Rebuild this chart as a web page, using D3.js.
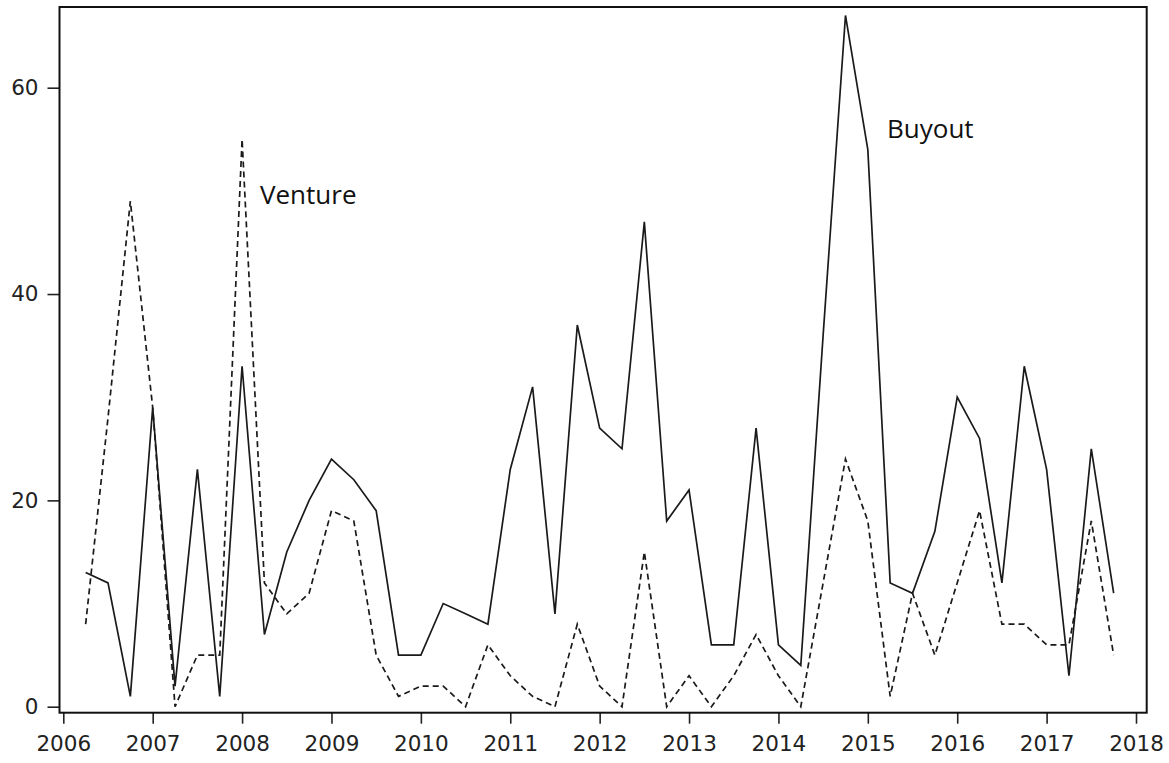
<!doctype html>
<html>
<head>
<meta charset="utf-8"/>
<title>Buyout and Venture</title>
<script src="https://cdn.jsdelivr.net/npm/d3@7"></script>
<style>
  body { margin: 0; background: #fff; }
  .tick text { font-family: "DejaVu Sans", Verdana, sans-serif; font-size: 21.5px; fill: #222; }
  .lbl { font-family: "Open Sans", "Segoe UI", sans-serif; font-size: 26px; fill: #111; }
</style>
</head>
<body>
<script>
// quarterly periods (decimal years)
var periods = [2006.25, 2006.5, 2006.75,
  2007, 2007.25, 2007.5, 2007.75,
  2008, 2008.25, 2008.5, 2008.75,
  2009, 2009.25, 2009.5, 2009.75,
  2010, 2010.25, 2010.5, 2010.75,
  2011, 2011.25, 2011.5, 2011.75,
  2012, 2012.25, 2012.5, 2012.75,
  2013, 2013.25, 2013.5, 2013.75,
  2014, 2014.25, 2014.5, 2014.75,
  2015, 2015.25, 2015.5, 2015.75,
  2016, 2016.25, 2016.5, 2016.75,
  2017, 2017.25, 2017.5, 2017.75];

var buyout = [13, 12, 1,
  29, 2, 23, 1,
  33, 7, 15, 20,
  24, 22, 19, 5,
  5, 10, 9, 8,
  23, 31, 9, 37,
  27, 25, 47, 18,
  21, 6, 6, 27,
  6, 4, 36, 67,
  54, 12, 11, 17,
  30, 26, 12, 33,
  23, 3, 25, 11];

var venture = [8, 28, 49,
  29, 0, 5, 5,
  55, 12, 9, 11,
  19, 18, 5, 1,
  2, 2, 0, 6,
  3, 1, 0, 8,
  2, 0, 15, 0,
  3, 0, 3, 7,
  3, 0, 12, 24,
  18, 1, 11, 5,
  12, 19, 8, 8,
  6, 6, 18, 5];

var xTicks = [2006, 2007, 2008, 2009, 2010, 2011, 2012, 2013, 2014, 2015, 2016, 2017, 2018];
var yTicks = [0, 20, 40, 60];

var svg = d3.select("body")
    .append("svg")
    .attr("width", 1169)
    .attr("height", 763);

// plot frame
var frameL = 59.5, frameR = 1146.7, frameT = 7, frameB = 712.7;

var x = d3.scaleLinear().domain([2006, 2018]).range([63.3, 1136]);
var y = d3.scaleLinear().domain([0, 60]).range([706.7, 87.7]);

// axes
var xAxis = d3.axisBottom(x).tickValues(xTicks).tickFormat(d3.format("d"))
    .tickSizeInner(11).tickSizeOuter(0).tickPadding(12);
var yAxis = d3.axisLeft(y).tickValues(yTicks).tickFormat(d3.format("d"))
    .tickSizeInner(12).tickSizeOuter(0).tickPadding(9);

var gx = svg.append("g").attr("transform", "translate(0," + frameB + ")").call(xAxis);
var gy = svg.append("g").attr("transform", "translate(" + frameL + ",0)").call(yAxis);
gx.select(".domain").remove();
gy.select(".domain").remove();
svg.selectAll(".tick line").attr("stroke", "#222").attr("stroke-width", 1.6);

svg.append("rect")
    .attr("x", frameL).attr("y", frameT)
    .attr("width", frameR - frameL).attr("height", frameB - frameT)
    .attr("fill", "none").attr("stroke", "#111").attr("stroke-width", 2);

function drawLine(vals, dash)
{
    var line = d3.line()
        .x(function(d, i) { return x(periods[i]); })
        .y(function(d) { return y(d); });
    var p = svg.append("path")
        .datum(vals)
        .attr("d", line)
        .attr("fill", "none")
        .attr("stroke", "#1a1a1a")
        .attr("stroke-width", 1.7)
        .attr("stroke-linejoin", "miter");
    if (dash) p.attr("stroke-dasharray", dash);
}

drawLine(venture, "6,4");
drawLine(buyout, null);

// series labels
svg.append("text").attr("class", "lbl").attr("x", 260).attr("y", 204).text("Venture");
svg.append("text").attr("class", "lbl").attr("x", 887).attr("y", 138).text("Buyout");
</script>
</body>
</html>
